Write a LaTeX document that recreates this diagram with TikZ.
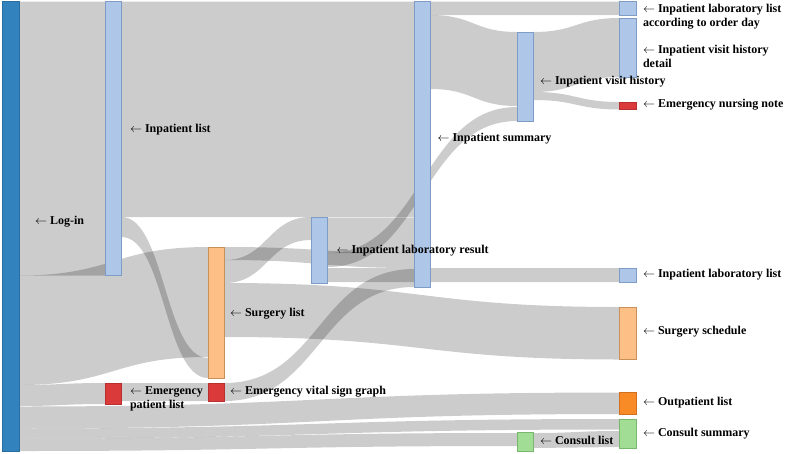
\documentclass[tikz,border=0pt]{standalone}
\usepackage{fontspec}
\setmainfont{Liberation Serif}
\usetikzlibrary{calc}
\pgfdeclarelayer{bg}
\pgfsetlayers{bg,main}
\definecolor{loginblue}{HTML}{3182BD}
\definecolor{lblue}{HTML}{AEC7E8}
\definecolor{lbluedraw}{HTML}{7D9CC6}
\definecolor{lorange}{HTML}{FDBF86}
\definecolor{lorangedraw}{HTML}{C8915A}
\definecolor{nred}{HTML}{DB3A3A}
\definecolor{nreddraw}{HTML}{B83030}
\definecolor{dorange}{HTML}{F98B26}
\definecolor{dorangedraw}{HTML}{D07020}
\definecolor{lgreen}{HTML}{A2DD96}
\definecolor{lgreendraw}{HTML}{78B86E}
\newcommand\band[6]{%
  \path ($(#1.east)!0.5!(#4.west)$) coordinate (bandmid);
  \fill[flow] (#1.east |- 0,#2) .. controls (bandmid |- 0,#2) and (bandmid |- 0,#5) .. (#4.west |- 0,#5)
    -- (#4.west |- 0,#6) .. controls (bandmid |- 0,#6) and (bandmid |- 0,#3) .. (#1.east |- 0,#3) -- cycle;}
\begin{document}
\begin{tikzpicture}[x=1pt,y=-1pt,
  box/.style={rectangle, inner sep=0pt, outer sep=0pt, minimum width=16.5pt, line width=0.7pt, anchor=north west},
  bluebox/.style={box, fill=lblue, draw=lbluedraw},
  orbox/.style={box, fill=lorange, draw=lorangedraw},
  redbox/.style={box, fill=nred, draw=nreddraw},
  dorbox/.style={box, fill=dorange, draw=dorangedraw},
  grbox/.style={box, fill=lgreen, draw=lgreendraw},
  flow/.style={fill=black, fill opacity=0.2},
  lab/.style={font=\bfseries\fontsize{12}{14.5}\selectfont, inner sep=0pt, outer sep=0pt, anchor=base west, align=left},
  lab2/.style={lab, anchor=west}]
\useasboundingbox (0,0) rectangle (786,453);
% nodes
\node[box, fill=loginblue, draw=loginblue!85!black, minimum width=17pt, minimum height=450pt] (login) at (2,1) {};
\node[bluebox, minimum height=274pt] (il) at (105,1.5) {};
\node[redbox, minimum height=21pt] (epl) at (105,383) {};
\node[orbox, minimum height=131pt] (sl) at (208,247) {};
\node[redbox, minimum height=18pt] (evsg) at (208,383) {};
\node[bluebox, minimum height=66pt] (lr) at (311,217) {};
\node[bluebox, minimum height=285.5pt] (is) at (414,1.5) {};
\node[bluebox, minimum height=89pt] (ivh) at (517,32) {};
\node[bluebox, minimum height=13.5pt] (lod) at (619.5,1.5) {};
\node[bluebox, minimum height=59pt] (ivhd) at (619.5,18) {};
\node[redbox, minimum height=7.5pt] (enn) at (619.5,102) {};
\node[bluebox, minimum height=14pt] (ll) at (619.5,268) {};
\node[orbox, minimum height=52.5pt] (ss) at (619.5,307) {};
\node[dorbox, minimum height=21.5pt] (ol) at (619.5,392.5) {};
\node[grbox, minimum height=29pt] (cs) at (619.5,419) {};
\node[grbox, minimum height=19pt] (cl) at (517,432) {};
% labels
\node[lab] (t-login) at (35,224) {$\leftarrow$ Log-in};
\node[lab] (t-il) at (130,132) {$\leftarrow$ Inpatient list};
\node[lab2] (t-epl) at (130,399) {$\leftarrow$ Emergency\\patient list};
\node[lab] (t-sl) at (230,316) {$\leftarrow$ Surgery list};
\node[lab] (t-evsg) at (230,394.7) {$\leftarrow$ Emergency vital sign graph};
\node[lab] (t-lr) at (336.5,253) {$\leftarrow$ Inpatient laboratory result};
\node[lab] (t-is) at (437.5,141.7) {$\leftarrow$ Inpatient summary};
\node[lab] (t-ivh) at (540,84) {$\leftarrow$ Inpatient visit history};
\node[lab2] (t-lod) at (643,16.8) {$\leftarrow$ Inpatient laboratory list\\according to order day};
\node[lab2] (t-ivhd) at (643,56.5) {$\leftarrow$ Inpatient visit history\\detail};
\node[lab] (t-enn) at (643,107.3) {$\leftarrow$ Emergency nursing note};
\node[lab] (t-ll) at (643,277.3) {$\leftarrow$ Inpatient laboratory list};
\node[lab] (t-ss) at (643,334.7) {$\leftarrow$ Surgery schedule};
\node[lab] (t-ol) at (643,405.7) {$\leftarrow$ Outpatient list};
\node[lab] (t-cs) at (643,436.7) {$\leftarrow$ Consult summary};
\node[lab] (t-cl) at (540,444) {$\leftarrow$ Consult list};
% flows
\begin{pgfonlayer}{bg}
\band{login}{1.5}{275.5}{il}{1.5}{275.5}
\band{login}{275.5}{385}{sl}{247}{357}
\band{login}{385}{406}{epl}{383}{404}
\band{login}{406.5}{428.5}{ol}{392.5}{414}
\band{login}{428.5}{438.5}{cs}{419}{429.5}
\band{login}{438.5}{451}{cl}{433}{446}
\band{cl}{433}{448}{cs}{431}{447}
\band{il}{1.5}{217}{is}{1.5}{217}
\band{il}{217}{237}{sl}{358}{378}
\band{sl}{247}{260}{is}{253}{268}
\band{sl}{260}{283}{lr}{217}{240}
\band{sl}{283}{337}{ss}{307}{359.5}
\band{epl}{383}{401}{evsg}{383}{401}
\band{evsg}{383}{401}{is}{269}{287}
\band{lr}{217.5}{253}{is}{217.5}{253}
\band{lr}{253}{267}{ivh}{107}{121}
\band{lr}{268}{282}{ll}{268}{282}
\band{is}{1.5}{15}{lod}{1.5}{15}
\band{is}{15}{89}{ivh}{32}{106}
\band{ivh}{32}{92}{ivhd}{18}{77}
\band{ivh}{92}{100}{enn}{102}{109.5}
\end{pgfonlayer}
\end{tikzpicture}
\end{document}
